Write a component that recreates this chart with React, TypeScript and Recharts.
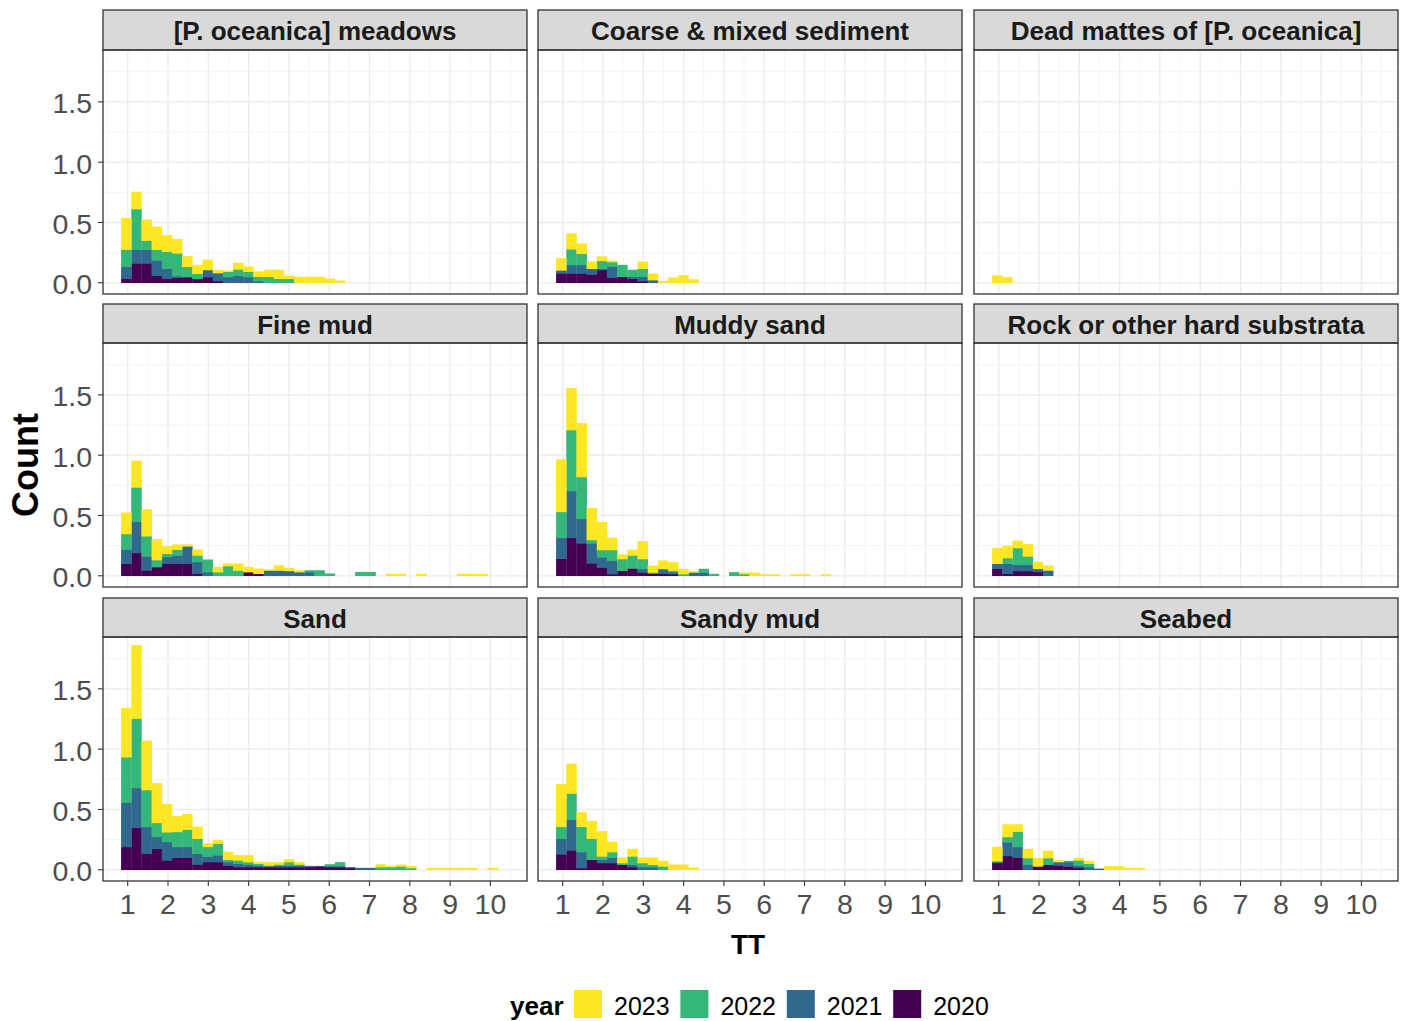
import React from 'react';
import { BarChart, Bar, XAxis, YAxis, CartesianGrid } from 'recharts';

// ---------- categories / ticks ----------
const binCenters = [
  0.967, 1.2195, 1.472, 1.7245, 1.977, 2.2295, 2.482, 2.7345, 2.987, 3.2395,
  3.492, 3.7445, 3.997, 4.2495, 4.502, 4.7545, 5.007, 5.2595, 5.512, 5.7645,
  6.017, 6.2695, 6.522, 6.7745, 7.027, 7.2795, 7.532, 7.7845, 8.037, 8.2895,
  8.542, 8.7945, 9.047, 9.2995, 9.552, 9.8045, 10.057, 10.3095,
];
const years = ['2023', '2022', '2021', '2020'];
const yearColors = ['#FDE725', '#35B779', '#31688E', '#440154'];
const habitats = [
  '[P. oceanica] meadows',
  'Coarse & mixed sediment',
  'Dead mattes of [P. oceanica]',
  'Fine mud',
  'Muddy sand',
  'Rock or other hard substrata',
  'Sand',
  'Sandy mud',
  'Seabed',
];
const xTicks = [1, 2, 3, 4, 5, 6, 7, 8, 9, 10];
const xMinor = [0.5, 1.5, 2.5, 3.5, 4.5, 5.5, 6.5, 7.5, 8.5, 9.5, 10.5];
const yTicks = [0, 0.5, 1.0, 1.5];
const yMinor = [0.25, 0.75, 1.25, 1.75];

// ---------- series values (per bin, stacked 2020 bottom → 2023 top) ----------
const meadows2020 = [0.033, 0.161, 0.161, 0.058, 0.033, 0.042, 0.047, 0.033, 0.047, 0.014];
const meadows2021 = [0.1, 0.114, 0.114, 0.128, 0.084, 0.014, 0, 0, 0.059, 0.061, 0.047, 0.058, 0.047, 0.014];
const meadows2022 = [0.142, 0.336, 0.075, 0.089, 0.141, 0.188, 0.086, 0.042, 0, 0.008, 0.045, 0.053, 0.045, 0.036, 0.05, 0.033, 0.033];
const meadows2023 = [0.261, 0.142, 0.172, 0.189, 0.136, 0.117, 0.086, 0.072, 0.084, 0.023, 0.008, 0.053, 0.041, 0.042, 0.056, 0.073, 0.025, 0.047, 0.047, 0.047, 0.033, 0.017];

const coarse2020 = [0.078, 0.078, 0.078, 0.069, 0.106, 0.042, 0.05, 0.033, 0.014];
const coarse2021 = [0.025, 0.069, 0.069, 0.048, 0.011, 0.091, 0, 0.017, 0.036, 0.022];
const coarse2022 = [0, 0.131, 0.095, 0, 0.064, 0.039, 0.097, 0.056, 0.067];
const coarse2023 = [0.1, 0.13, 0.083, 0.058, 0.036, 0.009, 0, 0, 0.058, 0.053, 0.014, 0.042, 0.061, 0.028];

const dead2020: number[] = [];
const dead2021: number[] = [];
const dead2022: number[] = [];
const dead2023 = [0.06, 0.045];

const fineMud2020 = [0.1, 0.189, 0.044, 0.072, 0.1, 0.1, 0.1, 0.017, 0, 0, 0, 0, 0.03, 0.017];
const fineMud2021 = [0.117, 0.261, 0.117, 0, 0.056, 0.069, 0.144, 0.097, 0.03, 0, 0, 0, 0, 0, 0.044, 0.044, 0.04, 0.03, 0.03];
const fineMud2022 = [0.13, 0.283, 0.167, 0.058, 0.027, 0.048, 0, 0.055, 0.103, 0.03, 0.08, 0.044, 0, 0, 0, 0, 0, 0, 0.014, 0.044, 0.017, 0, 0, 0.03, 0.03];
const fineMud2023 = [0.175, 0.22, 0.222, 0.173, 0.061, 0.041, 0.014, 0.048, 0, 0.042, 0.02, 0.056, 0.042, 0.041, 0.006, 0.042, 0.024, 0.014, 0, 0, 0, 0, 0, 0, 0, 0, 0.014, 0.014, 0, 0.014, 0, 0, 0, 0.014, 0.014, 0.014];

const muddySand2020 = [0.142, 0.314, 0.269, 0.103, 0.069, 0.014, 0.042, 0.061, 0.028, 0.019, 0.019, 0.014];
const muddySand2021 = [0.172, 0.389, 0.203, 0.166, 0.084, 0.111, 0, 0, 0.028, 0, 0.037, 0.016, 0, 0.028, 0.028];
const muddySand2022 = [0.216, 0.505, 0.347, 0.028, 0.061, 0.089, 0.097, 0.108, 0.083, 0.009, 0, 0.012, 0.014, 0, 0.028, 0.014, 0, 0.028, 0.014];
const muddySand2023 = [0.434, 0.348, 0.445, 0.264, 0.23, 0.1, 0.036, 0.045, 0.147, 0.055, 0.069, 0.069, 0.042, 0.008, 0, 0, 0, 0, 0.011, 0.025, 0.011, 0.011, 0, 0.011, 0.011, 0, 0.011];

const rock2020 = [0.058, 0.017, 0.039, 0.039, 0.031, 0];
const rock2021 = [0.042, 0.083, 0.053, 0.053, 0.027, 0.044];
const rock2022 = [0, 0.047, 0.138, 0.069, 0, 0];
const rock2023 = [0.13, 0.1, 0.059, 0.1, 0.056, 0.039];

const sand2020 = [0.189, 0.347, 0.133, 0.175, 0.078, 0.1, 0.1, 0.044, 0.064, 0.064, 0.036, 0.022, 0.022, 0.022, 0.022, 0.022, 0.022, 0.022, 0.022, 0.028, 0.022, 0.022, 0.014];
const sand2021 = [0.369, 0.331, 0.223, 0.097, 0.153, 0.089, 0.089, 0.089, 0.046, 0.056, 0.028, 0.028, 0.02, 0.014, 0.008, 0.014, 0.014, 0.014, 0.008, 0.002, 0.008, 0.008, 0.006, 0.014, 0.014];
const sand2022 = [0.375, 0.575, 0.305, 0.117, 0.08, 0.125, 0.144, 0.125, 0.08, 0.097, 0.019, 0.028, 0.022, 0.014, 0.006, 0.008, 0.028, 0.008, 0, 0, 0.014, 0.031, 0, 0, 0, 0.022, 0.022, 0.028, 0.014];
const sand2023 = [0.406, 0.608, 0.408, 0.328, 0.233, 0.13, 0.128, 0.098, 0.027, 0.027, 0.064, 0.042, 0.056, 0.014, 0.025, 0.017, 0.022, 0.017, 0, 0, 0, 0, 0, 0, 0, 0.022, 0.008, 0.014, 0.016, 0, 0.014, 0.014, 0.014, 0.014, 0.014, 0, 0.014];

const sandyMud2020 = [0.128, 0.161, 0.014, 0.083, 0.056, 0.056, 0.042, 0.022];
const sandyMud2021 = [0.13, 0.256, 0.133, 0, 0.027, 0.044, 0, 0.02, 0.022, 0.022];
const sandyMud2022 = [0.098, 0.216, 0.209, 0.175, 0.028, 0.047, 0.014, 0.069, 0.034, 0.02, 0.028];
const sandyMud2023 = [0.352, 0.245, 0.119, 0.145, 0.208, 0.084, 0.044, 0.061, 0.044, 0.058, 0.044, 0.042, 0.042, 0.017];

const seabed2020 = [0.056, 0.114, 0.1, 0, 0.028, 0.042, 0.036, 0.028, 0.017];
const seabed2021 = [0.008, 0.114, 0.089, 0.042, 0, 0, 0.028, 0.036, 0.019, 0.022, 0.008];
const seabed2022 = [0.008, 0.044, 0.128, 0.055, 0, 0.055, 0, 0.008, 0.042, 0.028];
const seabed2023 = [0.117, 0.103, 0.058, 0.075, 0.069, 0.059, 0.014, 0, 0.019, 0.022, 0, 0.028, 0.028, 0.014, 0.014];

// order: 2020, 2021, 2022, 2023
const panelSeries: number[][][] = [
  [meadows2020, meadows2021, meadows2022, meadows2023],
  [coarse2020, coarse2021, coarse2022, coarse2023],
  [dead2020, dead2021, dead2022, dead2023],
  [fineMud2020, fineMud2021, fineMud2022, fineMud2023],
  [muddySand2020, muddySand2021, muddySand2022, muddySand2023],
  [rock2020, rock2021, rock2022, rock2023],
  [sand2020, sand2021, sand2022, sand2023],
  [sandyMud2020, sandyMud2021, sandyMud2022, sandyMud2023],
  [seabed2020, seabed2021, seabed2022, seabed2023],
];

// ---------- layout ----------
const FONT = '"Liberation Sans", Arial, Helvetica, sans-serif';
const COL_X = [103, 538, 974];
const ROW_TOP = [50, 343, 637];
const STRIP_TOP = [10, 304, 598];
const PW = 424;
const PH = 244;
const X_DOMAIN: [number, number] = [0.387, 10.908];
const Y_DOMAIN: [number, number] = [-0.093, 1.93];
const Y_AXIS_W = 103;
const X_AXIS_H = 40;
const PAD_B = 14;
const BAR_SIZE = 10.1;
const TICK_FS = 28.5;

const Block = (props: any) => {
  const { x, y, width, height, fill } = props;
  if (!height || height <= 0 || !width) return <g />;
  return (
    <rect
      x={x - 0.2}
      y={y - 0.25}
      width={width + 0.4}
      height={height + 0.5}
      fill={fill}
    />
  );
};

const YTick = (props: any) => {
  const { x, y, payload } = props;
  return (
    <text
      x={x}
      y={y + 1.5}
      dy="0.355em"
      textAnchor="end"
      fill="#4d4d4d"
      fontSize={TICK_FS}
      fontFamily={FONT}
    >
      {Number(payload.value).toFixed(1)}
    </text>
  );
};

function buildRows(series: number[][]) {
  return binCenters.map((x, i) => ({
    x,
    y2020: series[0][i] ?? 0,
    y2021: series[1][i] ?? 0,
    y2022: series[2][i] ?? 0,
    y2023: series[3][i] ?? 0,
  }));
}

function Panel({ index }: { index: number }) {
  const row = Math.floor(index / 3);
  const col = index % 3;
  const showY = col === 0;
  const showX = row === 2;
  const padB = showX ? 0 : PAD_B;
  const width = PW + (showY ? Y_AXIS_W : 0);
  const height = PH + (showX ? X_AXIS_H : 0) + padB;
  const left = COL_X[col] - (showY ? Y_AXIS_W : 0);
  const top = ROW_TOP[row];
  const data = buildRows(panelSeries[index]);
  const keys = ['y2020', 'y2021', 'y2022', 'y2023'];
  const colors = [yearColors[3], yearColors[2], yearColors[1], yearColors[0]];

  return (
    <div style={{ position: 'absolute', left, top, width, height }}>
      <BarChart
        width={width}
        height={height}
        data={data}
        margin={{ top: 0, right: 0, bottom: padB, left: 0 }}
        barGap={0}
      >
        <CartesianGrid
          verticalValues={xMinor}
          horizontalValues={yMinor}
          stroke="#f3f3f3"
          strokeWidth={0.9}
        />
        <CartesianGrid
          verticalValues={xTicks}
          horizontalValues={yTicks}
          stroke="#ebebeb"
          strokeWidth={1.3}
        />
        <XAxis
          type="number"
          dataKey="x"
          domain={X_DOMAIN}
          allowDataOverflow
          ticks={xTicks}
          interval={0}
          hide={!showX}
          height={X_AXIS_H}
          axisLine={false}
          tickSize={5}
          tickMargin={8}
          tickLine={{ stroke: '#333333', strokeWidth: 1.1 }}
          tick={{ fill: '#4d4d4d', fontSize: TICK_FS, fontFamily: FONT }}
        />
        <YAxis
          type="number"
          domain={Y_DOMAIN}
          allowDataOverflow
          ticks={yTicks}
          interval={0}
          hide={!showY}
          width={Y_AXIS_W}
          axisLine={false}
          tickSize={5}
          tickMargin={6}
          tickLine={{ stroke: '#333333', strokeWidth: 1.1 }}
          tick={<YTick />}
        />
        {keys.map((k, i) => (
          <Bar
            key={k}
            dataKey={k}
            stackId="a"
            fill={colors[i]}
            barSize={BAR_SIZE}
            isAnimationActive={false}
            shape={<Block />}
          />
        ))}
      </BarChart>
    </div>
  );
}

export default function App() {
  const legendStart = 574;
  const legendStep = 106.4;
  return (
    <div
      style={{
        position: 'absolute',
        left: 0,
        top: 0,
        width: 1403,
        height: 1021,
        background: '#ffffff',
        fontFamily: FONT,
        overflow: 'hidden',
      }}
    >
      {habitats.map((_, i) => (
        <Panel key={i} index={i} />
      ))}
      <svg
        width={1403}
        height={1021}
        style={{ position: 'absolute', left: 0, top: 0, pointerEvents: 'none' }}
      >
        {habitats.map((name, i) => {
          const row = Math.floor(i / 3);
          const col = i % 3;
          const x = COL_X[col];
          const sTop = STRIP_TOP[row];
          const sH = ROW_TOP[row] - sTop;
          return (
            <g key={name}>
              <rect x={x} y={sTop} width={PW} height={sH} fill="#d9d9d9" stroke="#333333" strokeWidth={1.3} />
              <text
                x={x + PW / 2}
                y={sTop + sH / 2 + 10}
                textAnchor="middle"
                fontFamily={FONT}
                fontWeight="bold"
                fontSize={26}
                fill="#1a1a1a"
              >
                {name}
              </text>
              <rect x={x} y={ROW_TOP[row]} width={PW} height={PH} fill="none" stroke="#333333" strokeWidth={1.3} />
            </g>
          );
        })}
        <text
          transform="translate(38,465) rotate(-90)"
          textAnchor="middle"
          fontFamily={FONT}
          fontWeight="bold"
          fontSize={36}
          fill="#000"
        >
          Count
        </text>
        <text x={748} y={954} textAnchor="middle" fontFamily={FONT} fontWeight="bold" fontSize={28} fill="#000">
          TT
        </text>
        <text x={510} y={1015} fontFamily={FONT} fontWeight="bold" fontSize={26} fill="#000">
          year
        </text>
        {years.map((yr, i) => (
          <g key={yr}>
            <rect x={legendStart + i * legendStep} y={990} width={28} height={28} fill={yearColors[i]} />
            <text x={legendStart + i * legendStep + 40} y={1015} fontFamily={FONT} fontSize={25} fill="#000">
              {yr}
            </text>
          </g>
        ))}
      </svg>
    </div>
  );
}
